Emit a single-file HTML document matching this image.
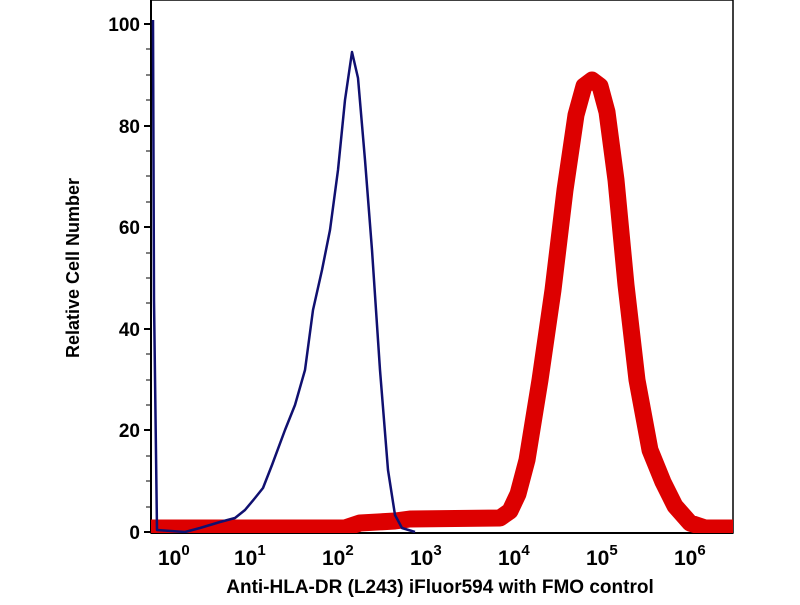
<!DOCTYPE html>
<html><head><style>body{margin:0;background:#fff}svg text{font-family:"Liberation Sans",sans-serif;font-weight:bold;fill:#000}</style></head>
<body>
<svg width="800" height="600" viewBox="0 0 800 600">
<defs><clipPath id="c"><rect x="151" y="0" width="582" height="533"/></clipPath></defs>
<rect x="151" y="0" width="582" height="533" fill="none" stroke="#000" stroke-width="1.5"/>
<g stroke="#000" stroke-width="2">
<line x1="151" y1="0" x2="151" y2="533"/><line x1="151" y1="533" x2="733" y2="533"/>
<line x1="144" y1="532" x2="151" y2="532"/><line x1="144" y1="430" x2="151" y2="430"/><line x1="144" y1="329" x2="151" y2="329"/><line x1="144" y1="227" x2="151" y2="227"/><line x1="144" y1="126" x2="151" y2="126"/><line x1="144" y1="24" x2="151" y2="24"/>
</g>
<g stroke="#000" stroke-width="1">
<line x1="146" y1="507" x2="151" y2="507"/><line x1="146" y1="481" x2="151" y2="481"/><line x1="146" y1="456" x2="151" y2="456"/>
<line x1="146" y1="405" x2="151" y2="405"/><line x1="146" y1="380" x2="151" y2="380"/><line x1="146" y1="354" x2="151" y2="354"/>
<line x1="146" y1="303" x2="151" y2="303"/><line x1="146" y1="278" x2="151" y2="278"/><line x1="146" y1="253" x2="151" y2="253"/>
<line x1="146" y1="202" x2="151" y2="202"/><line x1="146" y1="176" x2="151" y2="176"/><line x1="146" y1="151" x2="151" y2="151"/>
<line x1="146" y1="100" x2="151" y2="100"/><line x1="146" y1="75" x2="151" y2="75"/><line x1="146" y1="49" x2="151" y2="49"/>
</g>
<g font-size="19" text-anchor="end">
<text x="140" y="539">0</text><text x="140" y="437">20</text><text x="140" y="336">40</text><text x="140" y="234">60</text><text x="140" y="133">80</text><text x="140" y="31">100</text>
</g>
<g id="xt" stroke="#000"></g>
<g font-size="21">
<text x="158" y="565">10<tspan font-size="15" dy="-10">0</tspan></text>
<text x="234" y="565">10<tspan font-size="15" dy="-10">1</tspan></text>
<text x="322" y="565">10<tspan font-size="15" dy="-10">2</tspan></text>
<text x="410" y="565">10<tspan font-size="15" dy="-10">3</tspan></text>
<text x="498" y="565">10<tspan font-size="15" dy="-10">4</tspan></text>
<text x="586" y="565">10<tspan font-size="15" dy="-10">5</tspan></text>
<text x="674" y="565">10<tspan font-size="15" dy="-10">6</tspan></text>
</g>
<text x="440" y="593" font-size="19" text-anchor="middle">Anti-HLA-DR (L243) iFluor594 with FMO control</text>
<text transform="translate(79,268) rotate(-90)" font-size="18" text-anchor="middle">Relative Cell Number</text>
<g clip-path="url(#c)">
<polyline fill="none" stroke="#dd0000" stroke-width="17" stroke-linejoin="round" stroke-linecap="butt" points="140,528 345,528 360,523 395,521 410,519 500,518 510,511 518,494 527,460 540,380 553,290 565,190 576,115 584,86 592,80 600,86 607,112 616,180 626,285 637,380 650,450 663,482 675,506 690,523 705,528 745,528"/>
<polyline fill="none" stroke="#101070" stroke-width="2.5" stroke-linejoin="round" points="153,20 154,300 157,530 185,532 200,528 220,522 235,518 245,510 255,498 263,488 272,465 285,430 295,405 305,370 313,310 322,270 330,230 338,170 345,100 352,52 358,78 365,160 372,250 380,370 388,470 395,515 402,528 415,532"/>
</g>
<script>
var g=document.getElementById('xt'),s='';
for(var d=0;d<7;d++){for(var k=1;k<10;k++){var x=150+88*(d+Math.log10(k));if(x<151||x>733)continue;var L=k==1?8:4;s+='<line x1="'+x+'" y1="533" x2="'+x+'" y2="'+(533+L)+'" stroke-width="'+(k==1?2:1)+'"/>';}}
g.innerHTML=s;
</script>
</svg>
</body></html>
